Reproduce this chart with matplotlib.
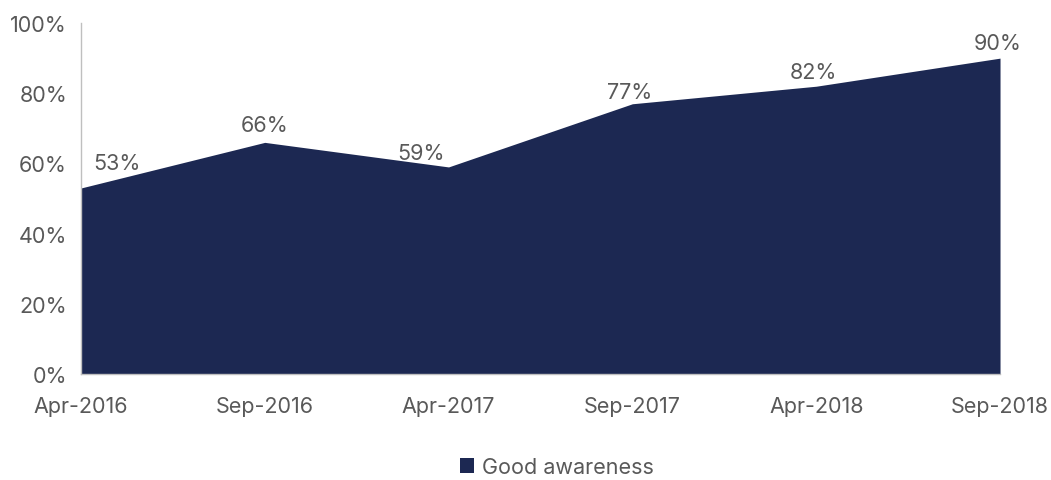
import matplotlib.pyplot as plt
from matplotlib.patches import Patch
from matplotlib.ticker import FuncFormatter

plt.rcParams['font.family'] = ['Inter', 'DejaVu Sans']

# data
dates = ['Apr-2016', 'Sep-2016', 'Apr-2017', 'Sep-2017', 'Apr-2018', 'Sep-2018']
awareness = [53, 66, 59, 77, 82, 90]
series_name = 'Good awareness'

navy = '#1c2852'
grey_text = '#595959'
fs = 15.5

fig = plt.figure(figsize=(10.51, 4.81), dpi=100)
ax = fig.add_axes([0.077, 0.2204, 0.8745, 0.7296])

x = list(range(len(dates)))
ax.fill_between(x, awareness, 0, color=navy, linewidth=0)

ax.set_xlim(0, len(dates) - 1)
ax.set_ylim(0, 100)
ax.set_yticks(range(0, 101, 20))
ax.yaxis.set_major_formatter(FuncFormatter(lambda v, p: f'{v:.0f}%'))
ax.set_xticks(x)
ax.set_xticklabels(dates)
ax.tick_params(axis='both', length=0, labelsize=fs, colors=grey_text)
ax.tick_params(axis='y', pad=10)
ax.tick_params(axis='x', pad=16)

for s in ['top', 'right']:
    ax.spines[s].set_visible(False)
for s in ['left', 'bottom']:
    ax.spines[s].set_color('#bfbfbf')
    ax.spines[s].set_linewidth(1)

# data labels, nudged the way the source places them
x_shift = [26, 0, -20, -2, -2, -2]
y_shift = [11, 5, 3, 1, 3, 4]
for i, v in enumerate(awareness):
    ax.annotate(f'{v}%', (i, v), xytext=(x_shift[i], y_shift[i]), textcoords='offset points',
                ha='center', va='bottom', fontsize=fs, color=grey_text)

handle = Patch(facecolor=navy, edgecolor='none')
fig.legend([handle], [series_name], loc='center', bbox_to_anchor=(0.53, 0.027),
           frameon=False, fontsize=fs, handlelength=0.65, handleheight=0.65,
           handletextpad=0.35, labelcolor=grey_text)

fig.savefig('out.png', dpi=100)
